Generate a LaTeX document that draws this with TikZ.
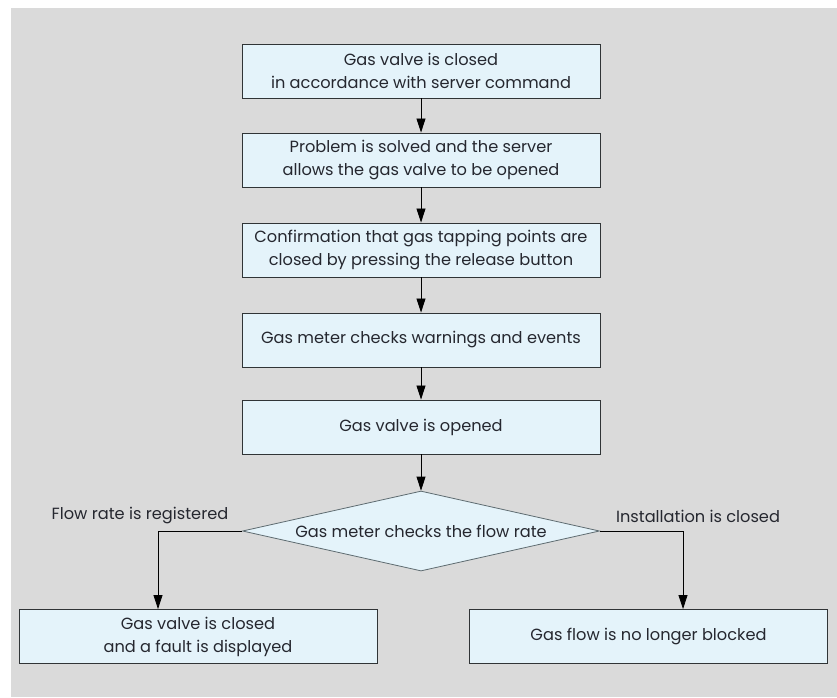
\documentclass[tikz,border=0pt]{standalone}
\usepackage{fontspec}
\setmainfont{Poppins}
\usetikzlibrary{arrows.meta, shapes.geometric}

\definecolor{panel}{HTML}{DADADA}
\definecolor{boxfill}{HTML}{E4F3FA}
\definecolor{boxline}{HTML}{303436}
\definecolor{diamondline}{HTML}{5E6B70}
\definecolor{ink}{HTML}{25272F}

\begin{document}
\begin{tikzpicture}[x=1pt, y=-1pt,
  every node/.style={text=ink, font=\fontsize{16.2}{23}\selectfont},
  stepbox/.style={draw=boxline, line width=.9pt, fill=boxfill, align=center,
    minimum width=358pt, minimum height=54pt, inner sep=0pt},
  decision/.style={diamond, draw=diamondline, line width=.8pt, fill=boxfill,
    aspect=4.46, inner sep=0pt, minimum width=357pt, minimum height=80pt},
  flow/.style={line width=.8pt, -{Triangle[length=14pt, width=9pt]}}]
% Background panel and page size
\useasboundingbox (0,0) rectangle (837,697);
\fill [panel] (11,8) rectangle (837,697);
% Main column of steps
\node [stepbox] (closed) at (421,71) {Gas valve is closed\\ in accordance with server command};
\node [stepbox] (solved) at (421,160) {Problem is solved and the server\\ allows the gas valve to be opened};
\node [stepbox] (confirm) at (421,250) {Confirmation that gas tapping points are\\ closed by pressing the release button};
\node [stepbox] (warnings) at (421,340) {Gas meter checks warnings and events};
\node [stepbox] (opened) at (421,427) {Gas valve is opened};
% Decision on the flow rate
\node [decision] (check) at (421,531) {Gas meter checks the flow rate};
% The two outcomes
\node [stepbox] (fault) at (198,636.5) {Gas valve is closed\\ and a fault is displayed};
\node [stepbox] (free) at (648.5,636.5) {Gas flow is no longer blocked};
% Connectors down the column
\draw [flow] (closed) -- (solved);
\draw [flow] (solved) -- (confirm);
\draw [flow] (confirm) -- (warnings);
\draw [flow] (warnings) -- (opened);
\draw [flow] (opened) -- (check);
% Branches out of the diamond
\coordinate (left turn) at (158,531);
\coordinate (right turn) at (683,531);
\draw [flow] (check.west) -- (left turn) -- (left turn |- fault.north);
\draw [flow] (check.east) -- (right turn) -- (right turn |- free.north);
\node (registered) at (140,516) {Flow rate is registered};
\node (installation) at (698,516) {Installation is closed};
\end{tikzpicture}
\end{document}
